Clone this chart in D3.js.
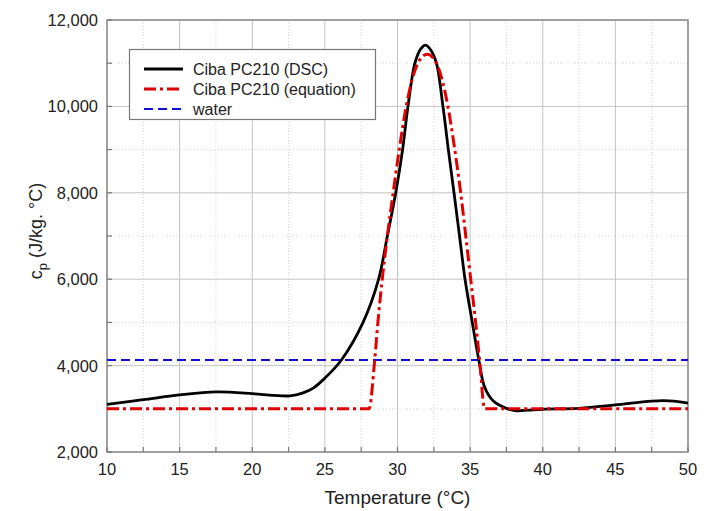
<!DOCTYPE html>
<html>
<head>
<meta charset="utf-8">
<script src="https://cdn.jsdelivr.net/npm/d3@7"></script>
<style>
  body { margin: 0; background: #fff; }
  text { font-family: "Liberation Sans", Arial, sans-serif; fill: #222; }
</style>
</head>
<body>
<svg id="chart" width="711" height="511"></svg>
<script>
// DSC measured curve (black)
var dscTemp = [10, 12.5, 15, 17.5, 20, 21.5, 22.6, 23.5, 24.2, 25, 26.14, 27.63, 28.7, 29.3, 29.88, 30.35, 30.72, 31.2, 31.6, 31.94, 32.3, 32.68, 33.13, 33.5, 33.89, 34.27, 34.65, 35.15, 35.6, 36.0, 36.6, 37.5, 38.2, 39, 40, 42.5, 45, 47.5, 49, 50];
var dscCp = [3100, 3210, 3320, 3390, 3350, 3310, 3300, 3370, 3480, 3710, 4130, 5000, 6000, 7000, 8000, 9000, 10000, 11000, 11330, 11420, 11300, 11000, 10000, 9000, 8000, 7000, 6000, 5000, 4130, 3500, 3180, 3010, 2955, 2970, 2990, 3010, 3090, 3180, 3180, 3130];

// equation curve (red dash-dot)
var eqTemp = [10, 28.04, 28.43, 28.65, 28.95, 29.3, 29.7, 30.12, 30.6, 31.4, 32.05, 32.68, 33.47, 33.9, 34.35, 34.7, 35.04, 35.38, 35.65, 36.0, 50];
var eqCp = [3000, 3000, 4130, 5000, 6000, 7000, 8000, 9000, 10000, 11000, 11210, 11000, 10000, 9100, 8000, 7000, 6000, 5000, 4130, 3000, 3000];

// water (blue dashed)
var waterTemp = [10, 50];
var waterCp = [4130, 4130];

var xTicks = [10, 15, 20, 25, 30, 35, 40, 45, 50];
var yTicks = [2000, 4000, 6000, 8000, 10000, 12000];
var xMinor = [12.5, 17.5, 22.5, 27.5, 32.5, 37.5, 42.5, 47.5];
var yMinor = [3000, 5000, 7000, 9000, 11000];

var seriesNames = ["Ciba PC210 (DSC)", "Ciba PC210 (equation)", "water"];

var svg = d3.select("#chart");
var plotL = 107, plotR = 688, plotT = 20, plotB = 452;

var x = d3.scaleLinear().domain([10, 50]).range([plotL, plotR]);
var y = d3.scaleLinear().domain([2000, 12000]).range([plotB, plotT]);

var g = svg.append("g");

// minor grid (dotted)
g.selectAll(".vminor").data(xMinor).enter().append("line")
    .attr("x1", d => x(d)).attr("x2", d => x(d))
    .attr("y1", plotT).attr("y2", plotB)
    .style("stroke", "#d4d4d4").style("stroke-width", 1)
    .style("stroke-dasharray", "1,2");
g.selectAll(".hminor").data(yMinor).enter().append("line")
    .attr("x1", plotL).attr("x2", plotR)
    .attr("y1", d => y(d)).attr("y2", d => y(d))
    .style("stroke", "#d4d4d4").style("stroke-width", 1)
    .style("stroke-dasharray", "1,2");

// major grid
g.selectAll(".vmajor").data(xTicks).enter().append("line")
    .attr("x1", d => x(d)).attr("x2", d => x(d))
    .attr("y1", plotT).attr("y2", plotB)
    .style("stroke", "#c4c4c4").style("stroke-width", 1);
g.selectAll(".hmajor").data(yTicks).enter().append("line")
    .attr("x1", plotL).attr("x2", plotR)
    .attr("y1", d => y(d)).attr("y2", d => y(d))
    .style("stroke", "#c4c4c4").style("stroke-width", 1);

// frame
g.append("rect")
    .attr("x", plotL).attr("y", plotT)
    .attr("width", plotR - plotL).attr("height", plotB - plotT)
    .style("fill", "none").style("stroke", "#8a8a8a").style("stroke-width", 1.5);

// inward ticks
var allX = xTicks.concat(xMinor), allY = yTicks.concat(yMinor);
g.selectAll(".xt").data(allX).enter().append("line")
    .attr("x1", d => x(d)).attr("x2", d => x(d))
    .attr("y1", plotB).attr("y2", plotB - 5)
    .style("stroke", "#777").style("stroke-width", 1.2);
g.selectAll(".yt").data(allY).enter().append("line")
    .attr("x1", plotL).attr("x2", plotL + 5)
    .attr("y1", d => y(d)).attr("y2", d => y(d))
    .style("stroke", "#777").style("stroke-width", 1.2);

// tick labels
g.selectAll(".xl").data(xTicks).enter().append("text")
    .attr("x", d => x(d)).attr("y", 475)
    .attr("text-anchor", "middle")
    .style("font-size", "16.5px")
    .text(d => d);
g.selectAll(".yl").data(yTicks).enter().append("text")
    .attr("x", 98).attr("y", d => y(d) + 6)
    .attr("text-anchor", "end")
    .style("font-size", "16.5px")
    .text(d => d3.format(",")(d));

// axis titles
svg.append("text")
    .attr("x", (plotL + plotR) / 2).attr("y", 504)
    .attr("text-anchor", "middle")
    .style("font-size", "19px")
    .text("Temperature (\u00b0C)");

var yt = svg.append("text")
    .attr("transform", "translate(42,231) rotate(-90)")
    .attr("text-anchor", "middle")
    .style("font-size", "18px");
yt.append("tspan").text("c");
yt.append("tspan").attr("dy", 5).style("font-size", "13px").text("p");
yt.append("tspan").attr("dy", -5).text(" (J/kg. \u00b0C)");

// curves
var smoothLine = d3.line()
    .x(d => x(d[0]))
    .y(d => y(d[1]))
    .curve(d3.curveCatmullRom.alpha(0.5));

var monoLine = d3.line()
    .x(d => x(d[0]))
    .y(d => y(d[1]))
    .curve(d3.curveMonotoneX);

svg.append("clipPath").attr("id", "plotclip")
    .append("rect").attr("x", plotL).attr("y", plotT)
    .attr("width", plotR - plotL).attr("height", plotB - plotT);

var curves = svg.append("g").attr("clip-path", "url(#plotclip)");

curves.append("path")
    .datum(d3.zip(waterTemp, waterCp))
    .attr("d", monoLine)
    .style("fill", "none").style("stroke", "#1010d0")
    .style("stroke-width", 1.8).style("stroke-dasharray", "9,5");

curves.append("path")
    .datum(d3.zip(dscTemp, dscCp))
    .attr("d", smoothLine)
    .style("fill", "none").style("stroke", "#000")
    .style("stroke-width", 2.8);

curves.append("path")
    .datum(d3.zip(eqTemp, eqCp))
    .attr("d", monoLine)
    .style("fill", "none").style("stroke", "#e00000")
    .style("stroke-width", 3).style("stroke-dasharray", "12,4,3,4");

// legend
var legend = svg.append("g");
legend.append("rect")
    .attr("x", 129.5).attr("y", 49.5)
    .attr("width", 246).attr("height", 70)
    .style("fill", "#fff").style("stroke", "#777").style("stroke-width", 1.2);

var legendStyles = [
    {color: "#000", width: 2.8, dash: null},
    {color: "#e00000", width: 3, dash: "12,4,3,4"},
    {color: "#1010d0", width: 1.8, dash: "9,5"}
];

seriesNames.forEach(function(name, i) {
    var ly = 69 + i * 20;
    var s = legendStyles[i];
    legend.append("line")
        .attr("x1", 144).attr("x2", 183)
        .attr("y1", ly).attr("y2", ly)
        .style("stroke", s.color).style("stroke-width", s.width)
        .style("stroke-dasharray", s.dash);
    legend.append("text")
        .attr("x", 193).attr("y", ly + 6)
        .style("font-size", "16px")
        .text(name);
});
</script>
</body>
</html>
